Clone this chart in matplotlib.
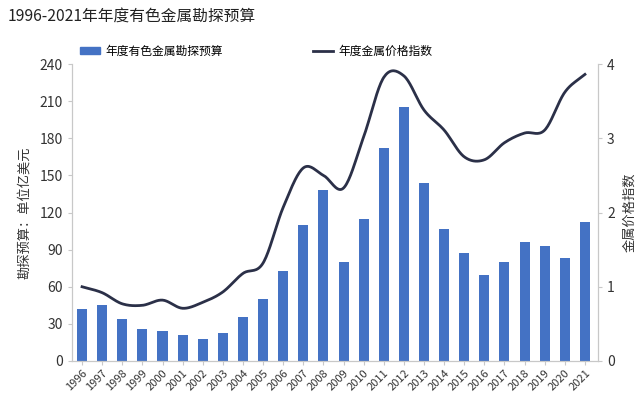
import numpy as np
import matplotlib
matplotlib.use("Agg")
import matplotlib.pyplot as plt
from matplotlib.patches import Patch
from matplotlib.lines import Line2D

plt.rcParams['font.family'] = ['Noto Sans CJK SC', 'DejaVu Sans']

years = [str(y) for y in range(1996, 2022)]
budget = [42, 45, 34, 26, 24, 21, 18, 22.6, 35.5, 50, 72.7, 110, 138, 80, 115,
          172, 205, 144, 107, 87, 69.5, 80, 96, 93, 83, 112]
price_index = [1.0, 0.92, 0.77, 0.75, 0.82, 0.71, 0.79, 0.93, 1.18, 1.32, 2.07,
               2.6, 2.5, 2.33, 3.02, 3.82, 3.84, 3.38, 3.11, 2.75, 2.71, 2.94,
               3.07, 3.11, 3.62, 3.86]

title = "1996-2021年年度有色金属勘探预算"
bar_label = "年度有色金属勘探预算"
line_label = "年度金属价格指数"
ylabel_left = "勘探预算：单位亿美元"
ylabel_right = "金属价格指数"

bar_color = "#4472C4"
line_color = "#2b3048"
spine_color = "#c8c8c8"


def smooth(x, y, n=20):
    # Catmull-Rom rendering of the line through the data points
    x = np.asarray(x, float)
    y = np.asarray(y, float)
    px = np.concatenate([[2 * x[0] - x[1]], x, [2 * x[-1] - x[-2]]])
    py = np.concatenate([[2 * y[0] - y[1]], y, [2 * y[-1] - y[-2]]])
    xs, ys = [], []
    for i in range(1, len(px) - 2):
        t = np.linspace(0, 1, n, endpoint=False)
        for arr, out in ((px, xs), (py, ys)):
            p0, p1, p2, p3 = arr[i - 1], arr[i], arr[i + 1], arr[i + 2]
            out.extend(0.5 * ((2 * p1) + (-p0 + p2) * t +
                              (2 * p0 - 5 * p1 + 4 * p2 - p3) * t ** 2 +
                              (-p0 + 3 * p1 - 3 * p2 + p3) * t ** 3))
    xs.append(x[-1]); ys.append(y[-1])
    return np.array(xs), np.array(ys)


fig = plt.figure(figsize=(6.4, 4.09), dpi=100)
ax = fig.add_axes([72 / 640, 1 - 361 / 409, (598 - 72) / 640, (361 - 64) / 409])
x = np.arange(len(years))
ax.bar(x, budget, width=0.5, color=bar_color, zorder=2)
ax.set_xlim(-0.5, len(years) - 0.5 + 0.15)
ax.set_ylim(0, 240)
ax.set_yticks(np.arange(0, 241, 30))
ax.set_xticks(x)
ax.set_xticklabels(years, rotation=45, ha='right', rotation_mode='anchor', fontsize=8, color='#333333')
ax.tick_params(axis='y', labelsize=10, colors='#333333', length=3, color=spine_color)
ax.tick_params(axis='x', length=3, color=spine_color, pad=2)
ax.set_ylabel(ylabel_left, fontsize=9.5, color='#333333', labelpad=6)

ax2 = ax.twinx()
sx, sy = smooth(x, price_index)
ax2.plot(sx, sy, color=line_color, lw=2, zorder=3)
ax2.set_ylim(0, 4)
ax2.set_yticks([0, 1, 2, 3, 4])
ax2.tick_params(axis='y', labelsize=10, colors='#333333', length=3, color=spine_color)
ax2.set_ylabel(ylabel_right, fontsize=9.5, color='#333333', labelpad=6)

for a in (ax, ax2):
    a.spines['top'].set_visible(False)
    for s in ('left', 'right', 'bottom'):
        a.spines[s].set_color(spine_color)

fig.text(8 / 640, 1 - 17 / 409, title, fontsize=11.3, color='#222222', va='center', ha='left')

handles = [Patch(color=bar_color), Line2D([0], [0], color=line_color, lw=2)]
fig.legend(handles, [bar_label, line_label], loc='center left', ncol=2,
           bbox_to_anchor=(69 / 640, 1 - 51 / 409), frameon=False, fontsize=8.5,
           handlelength=1.7, handleheight=0.6, columnspacing=7.6, handletextpad=0.5)

fig.savefig("out.png", dpi=100)
